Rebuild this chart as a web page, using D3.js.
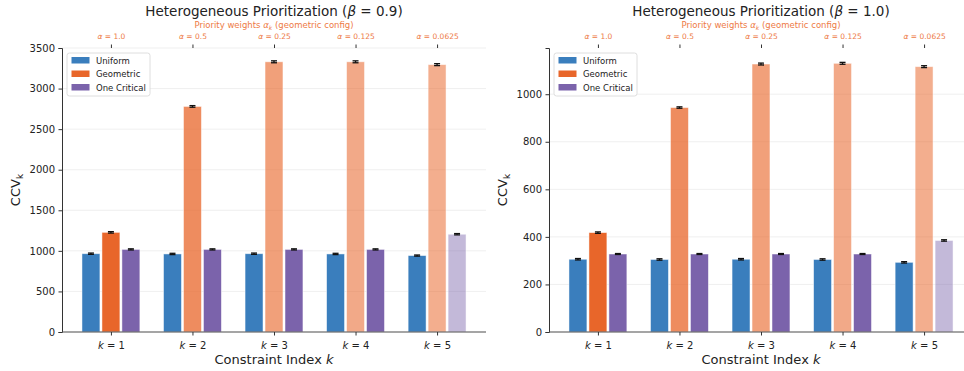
<!DOCTYPE html>
<html><head><meta charset="utf-8">
<script src="https://cdn.jsdelivr.net/npm/d3@7/dist/d3.min.js"></script>
<style>body{margin:0;background:#fff}svg{display:block;font-family:"DejaVu Sans",sans-serif}</style>
</head><body><svg id="c" width="964" height="371"></svg>
<script>
const kValues = [1, 2, 3, 4, 5];
const alphaLabels = ["1.0", "0.5", "0.25", "0.125", "0.0625"];
const seriesNames = ["Uniform", "Geometric", "One Critical"];
const seriesColors = ["#3a7ebd", "#e8662a", "#7b63ab"];
const geomAlpha = [1, 0.75, 0.625, 0.5625, 0.53];
const critAlpha = [1, 1, 1, 1, 0.45];

const uniform09 = [965, 962, 965, 962, 942];
const geometric09 = [1228, 2780, 3330, 3330, 3295];
const critical09 = [1018, 1018, 1018, 1018, 1205];
const uniformErr09 = [8, 8, 8, 8, 7];
const geometricErr09 = [9, 10, 12, 12, 12];
const critical09Err = [7, 7, 7, 7, 8];

const uniform10 = [306, 305, 306, 305, 293];
const geometric10 = [418, 944, 1127, 1130, 1116];
const critical10 = [328, 328, 328, 328, 385];
const uniformErr10 = [3, 3, 3, 3, 3];
const geometricErr10 = [3, 3, 4, 4, 4];
const critical10Err = [2, 2, 2, 2, 3];

const yTicks09 = [0, 500, 1000, 1500, 2000, 2500, 3000, 3500];
const yTicks10 = [0, 200, 400, 600, 800, 1000];

const svg = d3.select("#c");
const orange = "#ee7a45";

function panel(opts) {
  const {x0, x1, top, bottom, title, ymax, yTicks, data} = opts;
  const g = svg.append("g");
  const x = d3.scaleLinear().domain([-0.6, 4.6]).range([x0, x1]);
  const y = d3.scaleLinear().domain([0, ymax]).range([bottom, top]);
  const bw = 0.22, off = 0.245;

  g.selectAll(".grid").data(yTicks).join("line")
    .attr("x1", x0).attr("x2", x1).attr("y1", d => y(d)).attr("y2", d => y(d))
    .attr("stroke", "#ebebeb").attr("stroke-width", 0.8);

  data.forEach((s, si) => {
    s.vals.forEach((v, i) => {
      const cx = x(i + (si - 1) * off);
      const w = x(bw) - x(0);
      g.append("rect").attr("x", cx - w / 2).attr("y", y(v)).attr("width", w)
        .attr("height", y(0) - y(v)).attr("fill", seriesColors[si])
        .attr("fill-opacity", s.alpha[i]).attr("stroke", "#ffffff").attr("stroke-opacity", 0.6).attr("stroke-width", 0.8);
      const e = s.err[i];
      g.append("line").attr("x1", cx).attr("x2", cx).attr("y1", y(v - e)).attr("y2", y(v + e))
        .attr("stroke", "#111").attr("stroke-width", 1.3);
      g.append("line").attr("x1", cx - 3).attr("x2", cx + 3).attr("y1", y(v + e)).attr("y2", y(v + e))
        .attr("stroke", "#111").attr("stroke-width", 1.3);
      g.append("line").attr("x1", cx - 3).attr("x2", cx + 3).attr("y1", y(v - e)).attr("y2", y(v - e))
        .attr("stroke", "#111").attr("stroke-width", 1.3);
    });
  });

  const ya = g.append("g").attr("transform", `translate(${x0},0)`)
    .call(d3.axisLeft(y).tickValues(yTicks).tickSize(3.5).tickPadding(3.5).tickFormat(d3.format("d")));
  ya.select(".domain").attr("stroke", "#333").attr("stroke-width", 1);
  ya.selectAll(".tick line").attr("stroke", "#333");
  ya.selectAll("text").attr("font-size", 10).attr("fill", "#222").attr("font-family", "DejaVu Sans");

  const xa = g.append("g").attr("transform", `translate(0,${bottom})`)
    .call(d3.axisBottom(x).tickValues([0, 1, 2, 3, 4]).tickSize(3.5).tickPadding(3.5).tickFormat(""));
  xa.select(".domain").attr("stroke", "#555").attr("stroke-width", 1.2).attr("d", `M${x0},0H${x1}`);
  xa.selectAll(".tick line").attr("stroke", "#333");
  xa.selectAll(".tick").each(function (d, i) {
    const t = d3.select(this).append("text").attr("y", 16.5).attr("text-anchor", "middle")
      .attr("font-size", 10).attr("fill", "#222").attr("font-family", "DejaVu Sans");
    t.append("tspan").attr("font-style", "italic").text("k");
    t.append("tspan").text(" = " + kValues[i]);
  });

  const ta = g.append("g").attr("transform", `translate(0,${top})`)
    .call(d3.axisTop(x).tickValues([0, 1, 2, 3, 4]).tickSize(3.5).tickPadding(5).tickFormat(""));
  ta.select(".domain").remove();
  ta.selectAll(".tick line").attr("stroke", "#333");
  ta.selectAll(".tick").each(function (d, i) {
    const t = d3.select(this).append("text").attr("y", -9).attr("text-anchor", "middle")
      .attr("font-size", 7.5).attr("fill", orange).attr("font-family", "DejaVu Sans");
    t.append("tspan").attr("font-style", "italic").text("α");
    t.append("tspan").text(" = " + alphaLabels[i]);
  });

  const cx = (x0 + x1) / 2;
  const sl = g.append("text").attr("x", cx).attr("y", 28).attr("text-anchor", "middle")
    .attr("font-size", 8.5).attr("fill", orange);
  sl.append("tspan").text("Priority weights ");
  sl.append("tspan").attr("font-style", "italic").text("α");
  sl.append("tspan").attr("font-style", "italic").attr("font-size", 6).attr("dy", 2).text("k");
  sl.append("tspan").attr("dy", -2).text(" (geometric config)");

  const tt = g.append("text").attr("x", cx).attr("y", 16).attr("text-anchor", "middle")
    .attr("font-size", 13.5).attr("fill", "#222");
  tt.append("tspan").text("Heterogeneous Prioritization (");
  tt.append("tspan").attr("font-style", "italic").text("β");
  tt.append("tspan").text(" = " + title + ")");

  const xl = g.append("text").attr("x", cx).attr("y", 364).attr("text-anchor", "middle")
    .attr("font-size", 13).attr("fill", "#222");
  xl.append("tspan").text("Constraint Index ");
  xl.append("tspan").attr("font-style", "italic").text("k");

  const yl = g.append("text").attr("transform", `translate(${opts.ylabX},${(top + bottom) / 2}) rotate(-90)`)
    .attr("text-anchor", "middle").attr("font-size", 13).attr("fill", "#222");
  yl.append("tspan").text("CCV");
  yl.append("tspan").attr("font-size", 9).attr("dy", 3).text("k");

  const lg = g.append("g").attr("transform", `translate(${x0 + 5},${top + 5})`);
  lg.append("rect").attr("width", 83).attr("height", 43).attr("rx", 2.5)
    .attr("fill", "#fff").attr("fill-opacity", 0.85).attr("stroke", "#d5d5d5").attr("stroke-width", 0.8);
  seriesNames.forEach((n, i) => {
    lg.append("rect").attr("x", 4.5).attr("y", 4 + i * 13.5).attr("width", 18).attr("height", 6.5)
      .attr("fill", seriesColors[i]);
    lg.append("text").attr("x", 29).attr("y", 10.5 + i * 13.5).attr("font-size", 8.5)
      .attr("fill", "#222").text(n);
  });
}

function mk(u, g, c, ue, ge, ce) {
  return [
    {vals: u, err: ue, alpha: [1, 1, 1, 1, 1]},
    {vals: g, err: ge, alpha: geomAlpha},
    {vals: c, err: ce, alpha: critAlpha}
  ];
}

panel({x0: 62, x1: 486, top: 48, bottom: 332, title: "0.9", ymax: 3500, yTicks: yTicks09, ylabX: 20,
  data: mk(uniform09, geometric09, critical09, uniformErr09, geometricErr09, critical09Err)});
panel({x0: 549, x1: 973, top: 48, bottom: 332, title: "1.0", ymax: d3.max(geometric10) * 1.057, yTicks: yTicks10, ylabX: 507,
  data: mk(uniform10, geometric10, critical10, uniformErr10, geometricErr10, critical10Err)});
</script></body></html>
